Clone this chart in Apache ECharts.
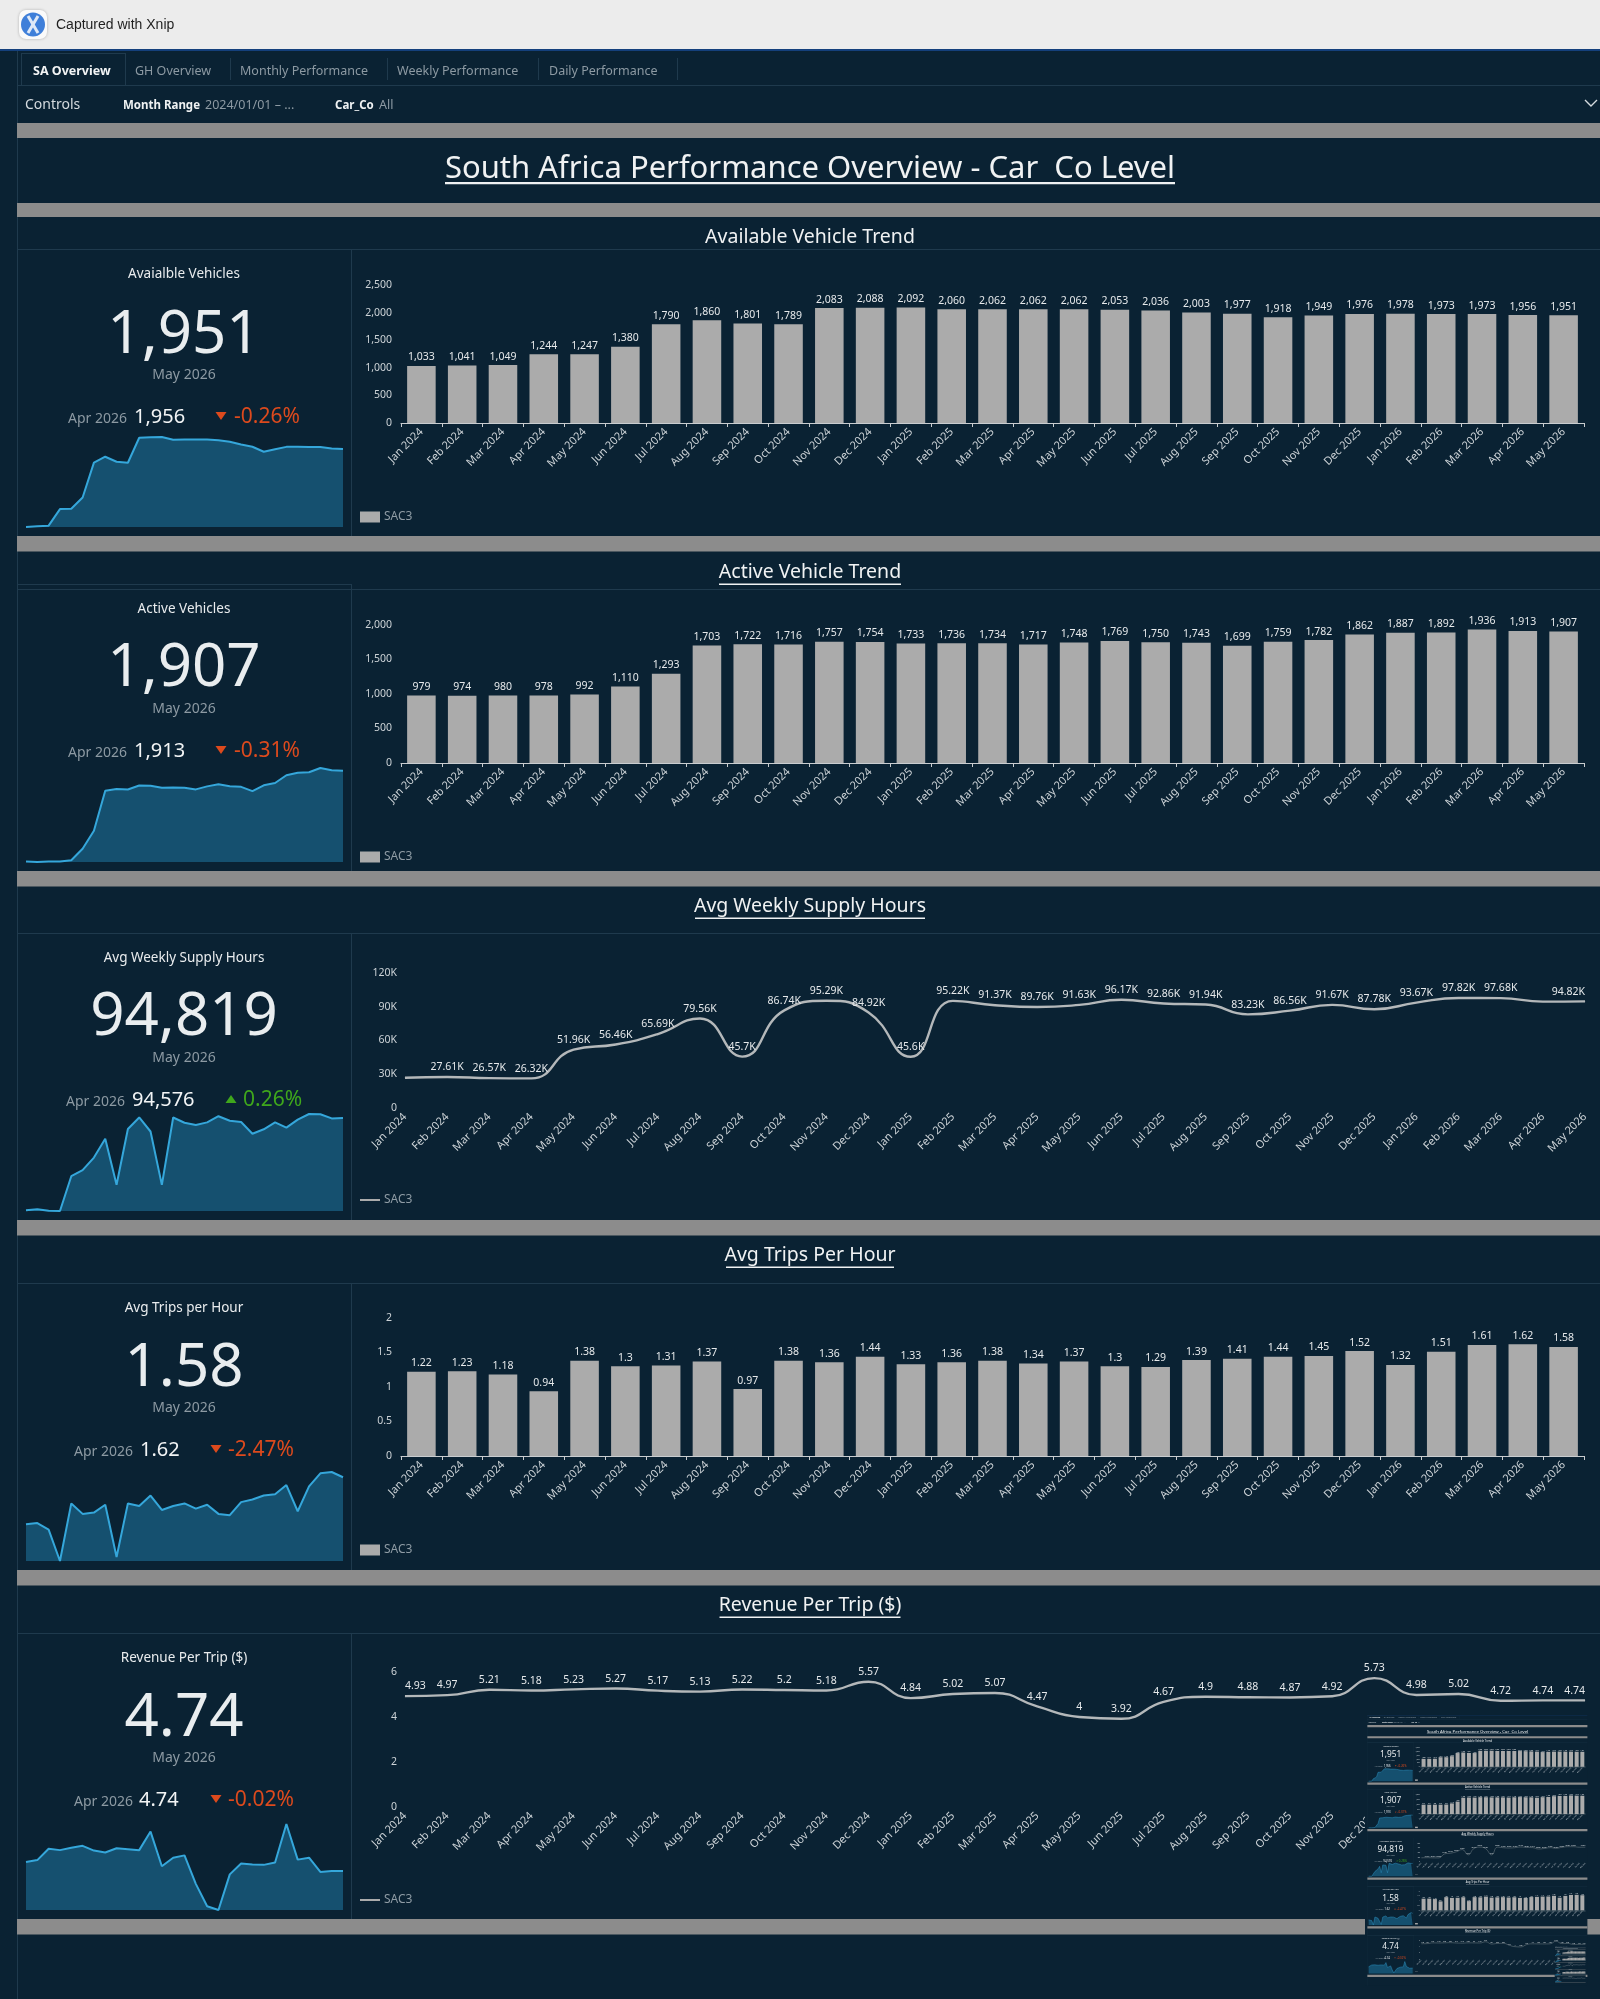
<!DOCTYPE html>
<html>
<head>
<meta charset="utf-8">
<title>South Africa Performance Overview</title>
<style>
  html, body { margin: 0; padding: 0; background: #0a2233; }
  #dash { width: 1600px; height: 1999px; }
</style>
</head>
<body>
<div id="dash"></div>
<script src="https://cdn.jsdelivr.net/npm/echarts@6/dist/echarts.min.js"></script>
<script>
// Monthly figures per metric
const months = ['Jan 2024','Feb 2024','Mar 2024','Apr 2024','May 2024','Jun 2024','Jul 2024','Aug 2024','Sep 2024','Oct 2024','Nov 2024','Dec 2024','Jan 2025','Feb 2025','Mar 2025','Apr 2025','May 2025','Jun 2025','Jul 2025','Aug 2025','Sep 2025','Oct 2025','Nov 2025','Dec 2025','Jan 2026','Feb 2026','Mar 2026','Apr 2026','May 2026'];
const availableVehicles = [1033,1041,1049,1244,1247,1380,1790,1860,1801,1789,2083,2088,2092,2060,2062,2062,2062,2053,2036,2003,1977,1918,1949,1976,1978,1973,1973,1956,1951];
const activeVehicles = [979,974,980,978,992,1110,1293,1703,1722,1716,1757,1754,1733,1736,1734,1717,1748,1769,1750,1743,1699,1759,1782,1862,1887,1892,1936,1913,1907];
const weeklySupplyHours = [26900,27610,26570,26320,51960,56460,65690,79560,45700,86740,95290,84920,45600,95220,91370,89760,91630,96170,92860,91940,83230,86560,91670,87780,93670,97820,97680,94576,94819];
const tripsPerHour = [1.22,1.23,1.18,0.94,1.38,1.3,1.31,1.37,0.97,1.38,1.36,1.44,1.33,1.36,1.38,1.34,1.37,1.3,1.29,1.39,1.41,1.44,1.45,1.52,1.32,1.51,1.61,1.62,1.58];
const revenuePerTrip = [4.93,4.97,5.21,5.18,5.23,5.27,5.17,5.13,5.22,5.2,5.18,5.57,4.84,5.02,5.07,4.47,4,3.92,4.67,4.9,4.88,4.87,4.92,5.73,4.98,5.02,4.72,4.74,4.74];
const navTabs = ['SA Overview','GH Overview','Monthly Performance','Weekly Performance','Daily Performance'];

const BG = '#0a2233', RULE = '#1f3a4d', BAND = '#8c8c8c', BAR = '#ababab', LINE = '#b4b8ba';
const TXT = '#e4e8ea', MUTED = '#8d9aa3', AXIS_TXT = '#cdd3d7', DOWN = '#dd4a1d', UP = '#3fa71c';
const FONT = '"Noto Sans", sans-serif';

const thousands = v => v.toLocaleString('en-US');
const kilo = v => (v === 0 ? '0' : +(v / 1000).toFixed(2) + 'K');
const plain = v => String(v);

const sections = [
  { head:'Available Vehicle Trend', headY:237, underline:0, top:249, panelTop:249, bottom:536, name:'SAC3 available',
    kpiTitle:'Avaialble Vehicles', titleY:274, numY:336, monthY:375, cmpY:417, kpi:'1,951', prev:'1,956', delta:'-0.26%', up:false,
    cmp:[127,134,221,234], spark:[437,527], values:availableVehicles, kind:'bar', grid:[285,423], yMax:2500, yStep:500, fmt:thousands, legendY:519 },
  { head:'Active Vehicle Trend', headY:572, underline:182, top:589, panelTop:584, bottom:871, name:'SAC3 active',
    kpiTitle:'Active Vehicles', titleY:609, numY:669, monthY:709, cmpY:751, kpi:'1,907', prev:'1,913', delta:'-0.31%', up:false,
    cmp:[127,134,221,234], spark:[768,862], values:activeVehicles, kind:'bar', grid:[625,763], yMax:2000, yStep:500, fmt:thousands, legendY:859 },
  { head:'Avg Weekly Supply Hours', headY:906, underline:230, top:933, panelTop:933, bottom:1220, name:'SAC3 supply',
    kpiTitle:'Avg Weekly Supply Hours', titleY:958, numY:1018, monthY:1058, cmpY:1100, kpi:'94,819', prev:'94,576', delta:'0.26%', up:true,
    cmp:[125,132,231,243], spark:[1114,1211], values:weeklySupplyHours, kind:'line', grid:[973,1108], yMax:120000, yStep:30000, fmt:kilo, legendY:1202, hide:[0,27] },
  { head:'Avg Trips Per Hour', headY:1255, underline:168, top:1283, panelTop:1283, bottom:1570, name:'SAC3 trips',
    kpiTitle:'Avg Trips per Hour', titleY:1308, numY:1369, monthY:1408, cmpY:1450, kpi:'1.58', prev:'1.62', delta:'-2.47%', up:false,
    cmp:[133,140,216,228], spark:[1472,1561], values:tripsPerHour, kind:'bar', grid:[1318,1456], yMax:2, yStep:0.5, fmt:plain, legendY:1552 },
  { head:'Revenue Per Trip ($)', headY:1605, underline:181, top:1633, panelTop:1633, bottom:1919, name:'SAC3 revenue',
    kpiTitle:'Revenue Per Trip ($)', titleY:1658, numY:1719, monthY:1758, cmpY:1800, kpi:'4.74', prev:'4.74', delta:'-0.02%', up:false,
    cmp:[133,139,216,228], spark:[1824,1910], values:revenuePerTrip, kind:'line', grid:[1672,1807], yMax:6, yStep:2, fmt:plain, legendY:1902, edgeAlign:true }
];

const option = { animation:false, backgroundColor:BG, grid:[], xAxis:[], yAxis:[], series:[], legend:[], graphic:{ elements:[] } };
const gfx = option.graphic.elements;

// Draws one copy of the dashboard; the nested copies sit in the lower right corner of the last section
function drawDashboard(ox, oy, s, depth) {
  const zBase = depth * 100;
  const X = v => ox + v * s, Y = v => oy + v * s;
  const rect = (x, y, w, h, fill, z = 1) => gfx.push({ type:'rect', silent:true, z:zBase + z,
    shape:{ x:X(x), y:Y(y), width:w * s, height:h * s }, style:{ fill } });
  const text = (x, y, str, size, fill, align = 'left', weight = 'normal', font = FONT) => {
    if (size * s < 1) {   // below any legible size: drawn as a faint stroke of the same width
      const w = str.length * size * 0.52;
      const x0 = align === 'center' ? x - w / 2 : align === 'right' ? x - w : x;
      gfx.push({ type:'rect', silent:true, z:zBase + 7, shape:{ x:X(x0), y:Y(y - size * 0.2), width:w * s, height:Math.max(size * 0.4 * s, 0.4) }, style:{ fill, opacity:0.55 } });
      return;
    }
    gfx.push({ type:'text', silent:true, z:zBase + 7, x:X(x), y:Y(y),
      style:{ text:str, fill, fontSize:size * s, fontFamily:font, fontWeight:weight, align, verticalAlign:'middle' } });
  };

  if (depth > 0) {
    gfx.push({ type:'rect', silent:true, z:zBase, shape:{ x:X(0), y:Y(50) - 0.5, width:1600 * s, height:1949 * s }, style:{ fill:BG } });
    rect(17, 50, 1583, 2, '#14407c');
  } else {
    rect(0, 0, 1600, 49, '#ececec');
    rect(0, 49, 1600, 2, '#14407c');
    gfx.push({ type:'rect', silent:true, z:2, shape:{ x:19, y:10, width:28, height:29, r:7 }, style:{ fill:'#fafafa', shadowBlur:3, shadowColor:'rgba(0,0,0,.25)' } });
    gfx.push({ type:'circle', silent:true, z:3, shape:{ cx:33, cy:24.5, r:12 }, style:{ fill:'#3f7fd9' } });
    gfx.push({ type:'line', silent:true, z:4, shape:{ x1:28, y1:16, x2:38, y2:33 }, style:{ stroke:'#dfe9f7', lineWidth:3 } });
    gfx.push({ type:'line', silent:true, z:4, shape:{ x1:38, y1:16, x2:28, y2:33 }, style:{ stroke:'#dfe9f7', lineWidth:3 } });
    text(56, 25, 'Captured with Xnip', 14, '#1f1f1f', 'left', 'normal', '"Liberation Sans", sans-serif');
  }

  // left rail, navigation tabs and control strip
  rect(17, 51, 1, 1948, RULE);
  rect(17, 85, 1583, 1, RULE);
  rect(21, 53, 1, 32, RULE);
  rect(125, 53, 1, 32, RULE);
  rect(21, 53, 104, 1, RULE);
  [230, 387, 538, 677].forEach(x => rect(x, 58, 1, 22, RULE));
  [33, 135, 240, 397, 549].forEach((x, i) => text(x, 71, navTabs[i], 12.5, i === 0 ? '#f2f4f5' : MUTED, 'left', i === 0 ? 'bold' : 'normal'));
  text(25, 105, 'Controls', 14, '#d5dbdf');
  text(123, 105.5, 'Month Range', 11.5, '#eef1f2', 'left', 'bold');
  text(205, 105.5, '2024/01/01 – ...', 12.5, MUTED);
  text(335, 105.5, 'Car_Co', 11.5, '#eef1f2', 'left', 'bold');
  text(379, 105.5, 'All', 12.5, MUTED);
  if (depth === 0) {
    gfx.push({ type:'polyline', silent:true, z:3, shape:{ points:[[1585,100],[1591,106],[1597,100]] }, style:{ stroke:'#d5dbdf', lineWidth:1.4, fill:'none' } });
  }

  // page heading between the first two bands
  rect(17, 123, 1583, 15, BAND, 2);
  rect(17, 203, 1583, 14, BAND, 2);
  text(810, 169, 'South Africa Performance Overview - Car  Co Level', 31, '#f0f2f3', 'center');
  rect(445, 182, 730, 2.2, '#f0f2f3', 7);

  sections.forEach(sec => {
    rect(17, sec.top, 1583, 1, RULE);
    rect(17, sec.panelTop, 334, 1, RULE);
    rect(351, sec.panelTop, 1, sec.bottom - sec.panelTop, RULE);
    rect(17, sec.bottom, 1583, 15.5, BAND, 2);
    text(810, sec.headY, sec.head, 19.5, '#f0f2f3', 'center');
    if (sec.underline) rect(810 - sec.underline / 2, sec.headY + 11.5, sec.underline, 1.6, '#f0f2f3', 7);

    // KPI card
    text(184, sec.titleY, sec.kpiTitle, 13.5, '#e9ecee', 'center');
    text(184, sec.numY, sec.kpi, 60, '#e9edef', 'center');
    text(184, sec.monthY, 'May 2026', 14, MUTED, 'center');
    const [labelEnd, prevX, triX, deltaX] = sec.cmp;
    text(labelEnd, sec.cmpY + 2, 'Apr 2026', 14, MUTED, 'right');
    text(prevX, sec.cmpY, sec.prev, 20, '#f2f4f5');
    text(deltaX, sec.cmpY, sec.delta, 21, sec.up ? UP : DOWN);
    const c = sec.up ? UP : DOWN, tip = sec.up ? -4 : 4;
    gfx.push({ type:'polygon', silent:true, z:zBase + 7,
      shape:{ points:[[X(triX - 5.5), Y(sec.cmpY - 1 - tip)], [X(triX + 5.5), Y(sec.cmpY - 1 - tip)], [X(triX), Y(sec.cmpY - 1 + tip)]] },
      style:{ fill:c } });

    const ordinal = option.grid.length;
    const zAxis = zBase + 5, zSeries = zBase + 6;

    // KPI sparkline scaled between the lowest and highest month
    option.grid.push({ left:X(26), top:Y(sec.spark[0]), width:317 * s, height:(sec.spark[1] - sec.spark[0]) * s });
    option.xAxis.push({ type:'category', gridIndex:ordinal, data:months, boundaryGap:false, show:false, z:zAxis });
    option.yAxis.push({ type:'value', gridIndex:ordinal, min:Math.min(...sec.values), max:Math.max(...sec.values), show:false, z:zAxis });
    option.series.push({ type:'line', name:sec.name + ' spark ' + depth, xAxisIndex:ordinal, yAxisIndex:ordinal, data:sec.values, z:zSeries,
      symbol:'none', clip:false, lineStyle:{ color:'#35a7db', width:Math.max(2 * s, 0.4) }, areaStyle:{ color:'#15506f', opacity:1 }, itemStyle:{ color:'#35a7db' } });

    // monthly trend chart
    const isBar = sec.kind === 'bar';
    const plotL = isBar ? 401 : 405, plotR = isBar ? 1584 : 1585;
    option.grid.push({ left:X(plotL), top:Y(sec.grid[0]), width:(plotR - plotL) * s, height:(sec.grid[1] - sec.grid[0]) * s });
    const showAxisText = s > 0.1;
    option.xAxis.push({ type:'category', gridIndex:ordinal + 1, data:months, boundaryGap:isBar, z:zAxis,
      axisLine:{ show:isBar, lineStyle:{ color:'#c9cdd0', width:Math.max(1.2 * s, 0.3) } },
      axisTick:{ show:isBar && s === 1, length:4, lineStyle:{ color:'#c9cdd0' } },
      axisLabel:{ show:showAxisText, interval:0, rotate:45, fontSize:11 * s, color:AXIS_TXT, fontFamily:FONT, margin:7 * s } });
    option.yAxis.push({ type:'value', gridIndex:ordinal + 1, min:0, max:sec.yMax, interval:sec.yStep, z:zAxis,
      splitLine:{ show:false }, axisLine:{ show:false }, axisTick:{ show:false },
      axisLabel:{ show:showAxisText, fontSize:10.5 * s, color:AXIS_TXT, fontFamily:FONT, margin:(isBar ? 9 : 8) * s,
        padding:isBar ? [2 * s, 0, 0, 0] : 0, formatter:v => sec.fmt(v) } });
    const seriesName = depth === 0 ? sec.name : sec.name + ' copy ' + depth;
    const labelBase = { show:showAxisText, position:'top', distance:(isBar ? 3 : 4) * s, fontSize:10.5 * s, color:'#e6e9eb', fontFamily:FONT,
      formatter:p => sec.fmt(p.value) };
    const items = sec.values.map((value, i) => {
      const item = { value };
      if (sec.hide && sec.hide.includes(i)) item.label = { show:false };
      if (sec.edgeAlign && i === 0) item.label = { align:'left' };
      if (i === sec.values.length - 1 && !isBar) item.label = { align:'right' };
      return item;
    });
    if (isBar) {
      option.series.push({ type:'bar', name:seriesName, xAxisIndex:ordinal + 1, yAxisIndex:ordinal + 1, data:items, z:zSeries,
        barCategoryGap:'30%', itemStyle:{ color:BAR }, label:labelBase });
    } else {
      option.series.push({ type:'line', name:seriesName, xAxisIndex:ordinal + 1, yAxisIndex:ordinal + 1, data:items, z:zSeries,
        smooth:0.5, symbol:'circle', symbolSize:Math.max(0.5 * s, 0.1), clip:false,
        lineStyle:{ color:LINE, width:Math.max(2.4 * s, 0.3) }, itemStyle:{ color:LINE }, label:labelBase });
    }

    // legend swatch and name
    if (depth === 0) {
      option.legend.push({ data:[seriesName], left:360, top:sec.legendY - 8, padding:0, itemGap:0, z:zAxis,
        icon:'rect', itemWidth:20, itemHeight:isBar ? 11 : 2, itemStyle:{ color:BAR }, lineStyle:{ color:BAR, width:2 },
        selectedMode:false, formatter:() => 'SAC3', textStyle:{ color:'#8f9ca5', fontSize:12, fontFamily:FONT, padding:[0,0,0,-1] } });
    } else {
      rect(360, sec.legendY - 5, 20, isBar ? 10 : 2, BAR, 7);
    }
  });

  if (depth === 0) drawDashboard(1365, 1708, 0.139, 1);
  else if (depth === 1) drawDashboard(1365 + 0.139 * 1365, 1708 + 0.139 * 1708, 0.139 * 0.139, 2);
}

drawDashboard(0, 0, 1, 0);

const chart = echarts.init(document.getElementById('dash'), null, { width:1600, height:1999 });
chart.setOption(option);
</script>
</body>
</html>
